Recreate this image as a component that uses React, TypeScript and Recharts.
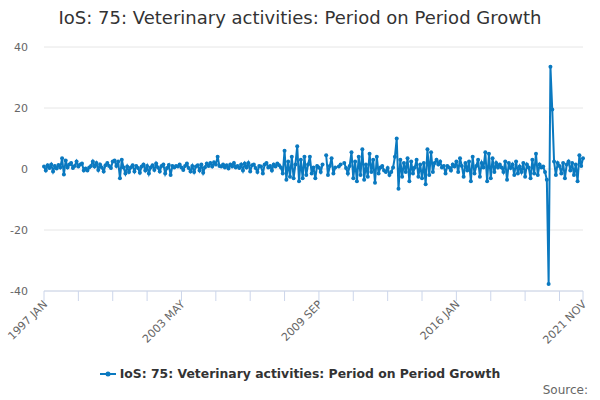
// Index of Services, SIC 75 Veterinary activities — monthly period on period growth (%)
// Recharts LineChart, numeric x axis = month index from 1997 JAN

import { LineChart, Line, XAxis, YAxis, CartesianGrid } from 'recharts'

const START_YEAR = 1997
const MONTHS = ['JAN', 'FEB', 'MAR', 'APR', 'MAY', 'JUN', 'JUL', 'AUG', 'SEP', 'OCT', 'NOV', 'DEC']

// one row per year; null = no value (gap in the line)
const GROWTH: (number | null)[] = [
  0.8, -0.5, 1.2, 0.3, 1.5, -0.8, 1.0, 0.2, 1.3, 0.5, 3.5, -1.8, // 1997
  2.8, 0.5, 1.5, 2.0, 0.3, 1.0, 2.5, 0.8, 1.5, 1.8, -0.5, 0.2, // 1998
  -0.5, 0.5, 1.0, 2.5, 0.8, 2.0, -0.3, 1.5, 0.5, -0.8, 1.2, 2.0, // 1999
  1.0, 0.3, 2.5, 2.8, 1.0, 2.5, -3.0, 3.0, 0.5, -1.5, 0.8, -1.0, // 2000
  0.5, 1.2, -0.8, 1.0, 0.3, -1.2, 0.8, 1.5, -0.5, 1.0, -1.5, 0.5, // 2001
  1.2, -0.3, 1.8, 0.5, -0.8, 1.0, 1.5, -1.5, 0.3, 1.3, -2.0, 1.0, // 2002
  0.5, 1.0, 0.8, 1.5, 0.5, -0.3, 1.0, 1.8, 0.3, -0.8, 1.0, -1.0, // 2003
  0.8, 1.2, -0.5, 1.5, -1.2, 0.6, 1.8, 1.0, 2.0, 0.8, 2.2, 1.5, // 2004
  4.0, 1.0, 0.8, 1.5, 0.5, 1.2, 0.2, 1.5, 0.8, 2.0, 0.5, 1.0, // 2005
  0.3, 1.5, -0.5, 1.8, 0.5, 2.0, -0.8, 1.2, 1.5, 0.3, -1.0, 1.0, // 2006
  0.8, -1.5, 1.5, 2.0, 0.5, 1.0, -0.5, 1.5, 0.8, 1.8, 1.2, 0.5, // 2007
  -1.5, 6.0, -3.5, 2.5, -2.5, 4.0, -3.0, 1.5, 7.5, -4.0, 3.0, -3.0, // 2008
  4.0, -2.0, 1.5, 4.0, -1.5, 0.5, -3.0, 1.0, 0.5, -1.0, 1.5, null, // 2009
  4.5, -2.0, 1.0, 3.5, -1.5, 0.5, null, 0.8, 1.5, null, 2.0, 0.3, // 2010
  -1.5, 1.0, 5.5, -3.0, 2.5, -4.0, 4.0, -2.0, 6.5, -3.5, 1.5, -2.5, // 2011
  5.0, -1.0, 3.0, -4.5, 4.0, -1.5, 0.5, 1.0, -0.5, -1.0, 0.3, -2.0, // 2012
  -1.0, 0.5, 4.0, 10.0, -6.5, 3.0, -2.5, 2.0, -1.0, 3.5, -4.0, 2.5, // 2013
  -1.5, 0.5, 3.0, -2.5, 1.5, -3.0, 2.0, -5.0, 6.5, -2.0, 5.5, -1.0, // 2014
  2.0, 3.0, 1.5, 2.5, 0.5, 1.0, -1.5, 1.0, 0.5, -0.5, 1.5, 0.8, // 2015
  2.5, -1.0, 3.5, 1.0, -2.5, 2.0, -0.5, 2.5, -4.0, 4.0, -1.5, 1.0, // 2016
  3.0, -2.5, 2.0, 0.5, 5.5, -4.0, 5.0, -3.0, 3.5, -1.0, 2.0, 0.5, // 2017
  1.5, 0.5, -1.0, 2.5, -3.5, 2.0, 0.3, 1.5, -2.0, 2.5, -1.5, 0.8, // 2018
  -1.0, 2.0, -2.5, 1.5, 0.5, -3.0, 3.0, -1.5, 5.0, -2.0, 1.5, 0.5, // 2019
  0.8, -1.0, -3.5, -37.7, 33.5, 19.5, 2.5, -2.0, 2.0, 1.0, -1.5, 2.0, // 2020
  -3.0, 1.5, 2.5, -0.5, 2.0, -2.0, 1.5, -4.0, 4.5, 1.0, 3.5, // 2021
]

const Y_TICKS = [-40, -20, 0, 20, 40]
// tick marks every 19 months, labels on every fourth one plus the last month
const X_TICKS = [0, 19, 38, 57, 76, 95, 114, 133, 152, 171, 190, 209, 228, 247, 266, 285, 298]
const X_LABELED = [0, 76, 152, 228, 298]

const TITLE = 'IoS: 75: Veterinary activities: Period on Period Growth'
const LINE_COLOR = '#0a79c0'
const FONT = '"DejaVu Sans", Verdana, sans-serif'

const monthLabel = (i: number) =>
  `${START_YEAR + Math.floor(i / 12)} ${MONTHS[i % 12]}`

const chartData = GROWTH.map((v, i) => ({ i, label: monthLabel(i), value: v }))

function MonthTick(props: any) {
  const { x, y, payload } = props
  if (!X_LABELED.includes(payload.value)) return null
  const tx = x + 4
  const ty = y + 2
  return (
    <text
      x={tx}
      y={ty}
      textAnchor="end"
      transform={`rotate(-45 ${tx} ${ty})`}
      fill="#666"
      fontSize={11}
      fontFamily={FONT}
    >
      {monthLabel(payload.value)}
    </text>
  )
}

export default function App() {
  return (
    <div style={{ position: 'absolute', left: 0, top: 0, width: 600, height: 400, fontFamily: FONT }}>
      <div
        style={{
          position: 'absolute', left: 0, top: 7, width: 600, textAlign: 'center',
          fontSize: 18, color: '#333',
        }}
      >
        {TITLE}
      </div>

      <LineChart
        width={600}
        height={400}
        data={chartData}
        margin={{ top: 47, right: 17, bottom: 49, left: 0 }}
      >
        <CartesianGrid stroke="#e6e6e6" vertical={false} />
        <XAxis
          type="number"
          dataKey="i"
          domain={[0, 298]}
          ticks={X_TICKS}
          interval={0}
          height={60}
          tickSize={10}
          tickLine={{ stroke: '#ccd6eb' }}
          axisLine={{ stroke: '#ccd6eb' }}
          tick={<MonthTick />}
        />
        <YAxis
          type="number"
          domain={[-40, 40]}
          ticks={Y_TICKS}
          width={44}
          axisLine={false}
          tickLine={false}
          tickMargin={10}
          tick={{ fill: '#666', fontSize: 11, fontFamily: FONT }}
        />
        <Line
          type="linear"
          dataKey="value"
          stroke={LINE_COLOR}
          strokeWidth={2}
          dot={{ r: 2, fill: LINE_COLOR, stroke: LINE_COLOR, strokeWidth: 0 }}
          isAnimationActive={false}
        />
      </LineChart>

      <div
        style={{
          position: 'absolute', left: 0, top: 366, width: 600,
          display: 'flex', justifyContent: 'center', alignItems: 'center',
          fontSize: 12.4, fontWeight: 'bold', color: '#333',
        }}
      >
        <svg width={16} height={10} style={{ marginRight: 4 }}>
          <line x1={0} y1={5} x2={16} y2={5} stroke={LINE_COLOR} strokeWidth={2} />
          <circle cx={8} cy={5} r={2.5} fill={LINE_COLOR} />
        </svg>
        <span>{TITLE}</span>
      </div>

      <div style={{ position: 'absolute', right: 12, top: 383, fontSize: 12, color: '#666' }}>
        Source:
      </div>
    </div>
  )
}
